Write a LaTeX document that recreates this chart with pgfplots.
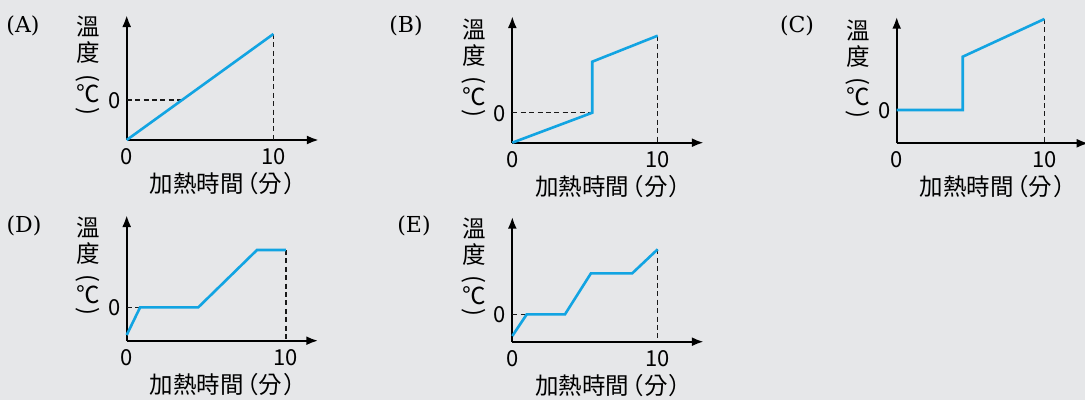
\documentclass[border=0pt]{standalone}
\usepackage{pgfplots}
\pgfplotsset{compat=1.18}
\usetikzlibrary{arrows.meta}
\usepackage{fontspec}
\setmainfont{Noto Sans CJK TC}
\newfontfamily\cjk[RawFeature={+palt}]{Noto Sans CJK TC}
\newfontfamily\serif{DejaVu Serif}
\definecolor{bg}{RGB}{230,231,233}
\definecolor{cy}{RGB}{18,164,226}
\newcommand\tl{\fontsize{22bp}{26bp}\selectfont}
\newcommand\lf{\fontsize{23.5bp}{28bp}\selectfont}
\newcommand\pf{\fontsize{22bp}{26bp}\selectfont\serif}
\pgfplotsset{panel/.style={
  scale only axis, axis lines=left, clip=false, anchor=south west,
  axis line style={line width=2.3bp, -{Latex[length=12bp,width=9bp]}},
  xtick={0,10}, ytick={0}, major tick length=0pt,
  tick label style={font=\tl},
  xticklabel style={anchor=center, yshift=-16.5bp},
  yticklabel style={anchor=center, xshift=-12.5bp, yshift=-0.5bp},
  /pgf/number format/assume math mode=true,
  dl/.style={line width=1.3bp, black!90, dash pattern=on 5bp off 3.4bp, mark=none},
  bl/.style={line width=2.6bp, cy, mark=none},
}}
\newcommand\deco[2]{%
  \pgfmathsetmacro\X{#1}\pgfmathsetmacro\Y{400-#2}%
  \node[font=\lf, inner sep=0pt] at (\X-38.5,\Y+113) {溫};
  \node[font=\lf, inner sep=0pt] at (\X-38.5,\Y+87) {度};
  \node[font=\lf, inner sep=0pt, rotate=-90] at (\X-38.5,\Y+62) {(};
  \node[font=\lf, inner sep=0pt] at (\X-38.5,\Y+46.5) {℃};
  \node[font=\lf, inner sep=0pt, rotate=-90] at (\X-38.5,\Y+29) {)};
  \node[font=\lf\cjk, inner sep=0pt] at (\X+96,\Y-43.5) {加熱時間\hspace{2.5bp}（\hspace{1bp}分\hspace{1.5bp}）};
}
\begin{document}
\begin{tikzpicture}[x=1bp,y=1bp]
\useasboundingbox (0,0) rectangle (1085,400);
\clip (0,0) rectangle (1085,400);
\fill[bg] (0,0) rectangle (1085,400);
% (A)
\begin{axis}[panel, at={(126.7bp,260bp)}, width=192.2bp, height=125bp,
  xmin=0, xmax=13.1, ymin=-40, ymax=85]
  \addplot[dl] coordinates {(0,0) (3.7,0)};
  \addplot[dl] coordinates {(10,66) (10,-40)};
  \addplot[bl] coordinates {(0,-40) (10,66)};
\end{axis}
% (B)
\begin{axis}[panel, at={(512.3bp,257.3bp)}, width=191.6bp, height=126.7bp,
  xmin=0, xmax=13.18, ymin=-30, ymax=96.7]
  \addplot[dl] coordinates {(0,0) (5.5,0)};
  \addplot[dl] coordinates {(10,77) (10,-30)};
  \addplot[bl] coordinates {(0,-30) (5.5,0) (5.5,51) (10,77)};
\end{axis}
% (C)
\begin{axis}[panel, at={(896.7bp,256.7bp)}, width=192bp, height=126.6bp,
  xmin=0, xmax=13.0, ymin=-33.3, ymax=93.3]
  \addplot[dl] coordinates {(10,91) (10,-33.3)};
  \addplot[bl] coordinates {(0,0) (4.47,0) (4.47,53.3) (10,91)};
\end{axis}
% (D)
\begin{axis}[panel, at={(126.7bp,59.3bp)}, width=191.6bp, height=125.7bp,
  xmin=0, xmax=12.03, ymin=-33.3, ymax=92.4]
  \addplot[dl] coordinates {(0,0) (0.84,0)};
  \addplot[dl] coordinates {(10,57.4) (10,-33.3)};
  \addplot[bl] coordinates {(0,-27.6) (0.84,0) (4.49,0) (8.18,57.4) (10,57.4)};
\end{axis}
% (E)
\begin{axis}[panel, at={(512.3bp,58.3bp)}, width=191.6bp, height=125bp,
  xmin=0, xmax=13.18, ymin=-27.3, ymax=97.7]
  \addplot[dl] coordinates {(0,0) (0.99,0)};
  \addplot[dl] coordinates {(10,65.1) (10,-27.3)};
  \addplot[bl] coordinates {(0,-21.6) (0.99,0) (3.62,0) (5.41,41.1) (8.25,41.1) (10,65.1)};
\end{axis}
\deco{126.7}{140}
\deco{512.3}{142.7}
\deco{896.7}{143.3}
\deco{126.7}{340.7}
\deco{512.3}{341.7}
\node[font=\pf] at (23,374) {(A)};
\node[font=\pf] at (406,374) {(B)};
\node[font=\pf] at (797,374) {(C)};
\node[font=\pf] at (24,174) {(D)};
\node[font=\pf] at (414,174) {(E)};
\end{tikzpicture}
\end{document}
